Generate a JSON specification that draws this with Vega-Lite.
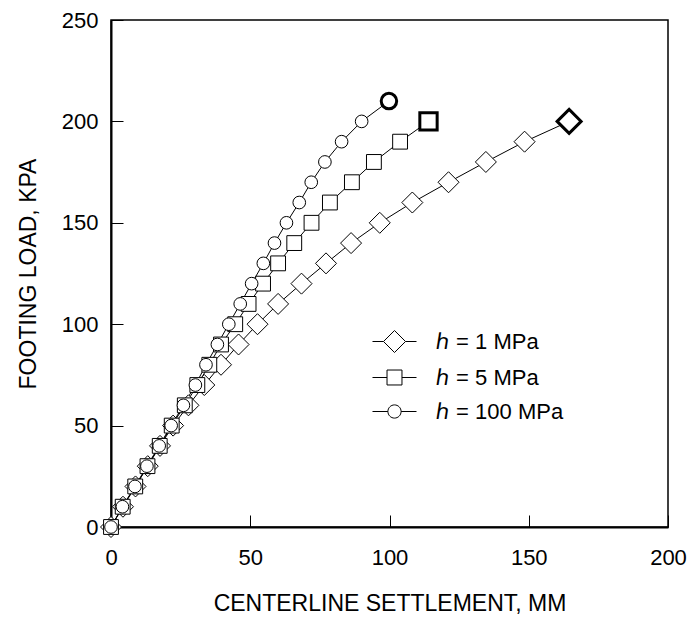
{
  "$schema": "https://vega.github.io/schema/vega-lite/v6.json",
  "autosize": "none",
  "width": 557,
  "height": 507,
  "padding": {"left": 111, "top": 20, "right": 27, "bottom": 94},
  "background": "white",
  "config": {
    "view": {"stroke": "black", "strokeWidth": 1.5},
    "font": "Liberation Sans",
    "axis": {
      "grid": false,
      "domainColor": "black",
      "domainWidth": 2,
      "tickColor": "black",
      "tickWidth": 1,
      "tickSize": -12,
      "labelColor": "black",
      "labelFont": "Liberation Sans",
      "labelFontSize": 22,
      "labelFlush": false,
      "labelOverlap": false,
      "titleColor": "black",
      "titleFont": "Liberation Sans",
      "titleFontSize": 23,
      "titleFontWeight": "normal"
    }
  },
  "data": {
    "values": [
      {"series": "ℎ = 1 MPa", "load": 0, "settlement": 0},
      {"series": "ℎ = 1 MPa", "load": 10, "settlement": 4.3},
      {"series": "ℎ = 1 MPa", "load": 20, "settlement": 8.8},
      {"series": "ℎ = 1 MPa", "load": 30, "settlement": 13.2},
      {"series": "ℎ = 1 MPa", "load": 40, "settlement": 17.6},
      {"series": "ℎ = 1 MPa", "load": 50, "settlement": 22.3},
      {"series": "ℎ = 1 MPa", "load": 60, "settlement": 27.8},
      {"series": "ℎ = 1 MPa", "load": 70, "settlement": 33.5},
      {"series": "ℎ = 1 MPa", "load": 80, "settlement": 39.5},
      {"series": "ℎ = 1 MPa", "load": 90, "settlement": 45.8},
      {"series": "ℎ = 1 MPa", "load": 100, "settlement": 52.6},
      {"series": "ℎ = 1 MPa", "load": 110, "settlement": 60},
      {"series": "ℎ = 1 MPa", "load": 120, "settlement": 68.4},
      {"series": "ℎ = 1 MPa", "load": 130, "settlement": 77.2},
      {"series": "ℎ = 1 MPa", "load": 140, "settlement": 86.2},
      {"series": "ℎ = 1 MPa", "load": 150, "settlement": 96.5},
      {"series": "ℎ = 1 MPa", "load": 160, "settlement": 108.2},
      {"series": "ℎ = 1 MPa", "load": 170, "settlement": 121.2},
      {"series": "ℎ = 1 MPa", "load": 180, "settlement": 134.6},
      {"series": "ℎ = 1 MPa", "load": 190, "settlement": 148.5},
      {"series": "ℎ = 1 MPa", "load": 200, "settlement": 164.5},
      {"series": "ℎ = 5 MPa", "load": 0, "settlement": 0},
      {"series": "ℎ = 5 MPa", "load": 10, "settlement": 4.2},
      {"series": "ℎ = 5 MPa", "load": 20, "settlement": 8.7},
      {"series": "ℎ = 5 MPa", "load": 30, "settlement": 13.1},
      {"series": "ℎ = 5 MPa", "load": 40, "settlement": 17.5},
      {"series": "ℎ = 5 MPa", "load": 50, "settlement": 21.8},
      {"series": "ℎ = 5 MPa", "load": 60, "settlement": 26.5},
      {"series": "ℎ = 5 MPa", "load": 70, "settlement": 31},
      {"series": "ℎ = 5 MPa", "load": 80, "settlement": 35.3},
      {"series": "ℎ = 5 MPa", "load": 90, "settlement": 39.5},
      {"series": "ℎ = 5 MPa", "load": 100, "settlement": 44.6},
      {"series": "ℎ = 5 MPa", "load": 110, "settlement": 49.4},
      {"series": "ℎ = 5 MPa", "load": 120, "settlement": 54.6},
      {"series": "ℎ = 5 MPa", "load": 130, "settlement": 60},
      {"series": "ℎ = 5 MPa", "load": 140, "settlement": 65.8},
      {"series": "ℎ = 5 MPa", "load": 150, "settlement": 72},
      {"series": "ℎ = 5 MPa", "load": 160, "settlement": 78.6},
      {"series": "ℎ = 5 MPa", "load": 170, "settlement": 86.5},
      {"series": "ℎ = 5 MPa", "load": 180, "settlement": 94.4},
      {"series": "ℎ = 5 MPa", "load": 190, "settlement": 103.8},
      {"series": "ℎ = 5 MPa", "load": 200, "settlement": 114},
      {"series": "ℎ = 100 MPa", "load": 0, "settlement": 0},
      {"series": "ℎ = 100 MPa", "load": 10, "settlement": 4.1},
      {"series": "ℎ = 100 MPa", "load": 20, "settlement": 8.6},
      {"series": "ℎ = 100 MPa", "load": 30, "settlement": 12.9},
      {"series": "ℎ = 100 MPa", "load": 40, "settlement": 17.3},
      {"series": "ℎ = 100 MPa", "load": 50, "settlement": 21.6},
      {"series": "ℎ = 100 MPa", "load": 60, "settlement": 26},
      {"series": "ℎ = 100 MPa", "load": 70, "settlement": 30.3},
      {"series": "ℎ = 100 MPa", "load": 80, "settlement": 34.1},
      {"series": "ℎ = 100 MPa", "load": 90, "settlement": 38.2},
      {"series": "ℎ = 100 MPa", "load": 100, "settlement": 42.3},
      {"series": "ℎ = 100 MPa", "load": 110, "settlement": 46.4},
      {"series": "ℎ = 100 MPa", "load": 120, "settlement": 50.5},
      {"series": "ℎ = 100 MPa", "load": 130, "settlement": 54.7},
      {"series": "ℎ = 100 MPa", "load": 140, "settlement": 58.7},
      {"series": "ℎ = 100 MPa", "load": 150, "settlement": 63},
      {"series": "ℎ = 100 MPa", "load": 160, "settlement": 67.6},
      {"series": "ℎ = 100 MPa", "load": 170, "settlement": 71.9},
      {"series": "ℎ = 100 MPa", "load": 180, "settlement": 76.8},
      {"series": "ℎ = 100 MPa", "load": 190, "settlement": 82.8},
      {"series": "ℎ = 100 MPa", "load": 200, "settlement": 90},
      {"series": "ℎ = 100 MPa", "load": 210, "settlement": 99.8}
    ]
  },
  "encoding": {
    "x": {
      "field": "settlement", "type": "quantitative",
      "scale": {"domain": [0, 200], "nice": false},
      "axis": {"values": [0, 50, 100, 150, 200], "title": "CENTERLINE SETTLEMENT, MM", "labelPadding": 32, "titlePadding": 24}
    },
    "y": {
      "field": "load", "type": "quantitative",
      "scale": {"domain": [0, 250], "nice": false},
      "axis": {"values": [0, 50, 100, 150, 200, 250], "title": "FOOTING LOAD, KPA", "labelPadding": 25, "titlePadding": 21}
    }
  },
  "layer": [
    {
      "mark": {"type": "line", "color": "black", "strokeWidth": 1},
      "encoding": {"detail": {"field": "series"}, "order": {"field": "load"}}
    },
    {
      "mark": {"type": "point", "filled": false, "fill": "white", "fillOpacity": 1, "stroke": "black", "strokeWidth": 1, "opacity": 1},
      "encoding": {
        "shape": {
          "field": "series", "type": "nominal",
          "scale": {"domain": ["ℎ = 1 MPa", "ℎ = 5 MPa", "ℎ = 100 MPa"], "range": ["diamond", "square", "circle"]},
          "legend": null
        },
        "size": {
          "field": "series", "type": "nominal",
          "scale": {"type": "ordinal", "domain": ["ℎ = 1 MPa", "ℎ = 5 MPa", "ℎ = 100 MPa"], "range": [441, 220, 160]},
          "legend": null
        }
      }
    },
    {
      "transform": [
        {"joinaggregate": [{"op": "max", "field": "load", "as": "maxLoad"}], "groupby": ["series"]},
        {"filter": "datum.load === datum.maxLoad"}
      ],
      "mark": {"type": "point", "filled": false, "fill": "white", "fillOpacity": 1, "stroke": "black", "strokeWidth": 3, "opacity": 1},
      "encoding": {
        "shape": {
          "field": "series", "type": "nominal",
          "scale": {"domain": ["ℎ = 1 MPa", "ℎ = 5 MPa", "ℎ = 100 MPa"], "range": ["diamond", "square", "circle"]},
          "legend": null
        },
        "size": {
          "field": "series", "type": "nominal",
          "scale": {"type": "ordinal", "domain": ["ℎ = 1 MPa", "ℎ = 5 MPa", "ℎ = 100 MPa"], "range": [576, 300, 240]},
          "legend": null
        }
      }
    },
    {
      "transform": [{"filter": "datum.load === 0"}],
      "mark": {"type": "point", "filled": false, "stroke": "black", "strokeWidth": 1, "opacity": 0},
      "encoding": {
        "shape": {
          "field": "series", "type": "nominal",
          "scale": {
            "domain": ["ℎ = 1 MPa", "ℎ = 5 MPa", "ℎ = 100 MPa"],
            "range": [
              "M -1 0 L -0.5 0 M 0.5 0 L 1 0 M -0.5 0 L 0 -0.5 L 0.5 0 L 0 0.5 Z",
              "M -1 0 L -0.34 0 M 0.34 0 L 1 0 M -0.34 -0.34 L 0.34 -0.34 L 0.34 0.34 L -0.34 0.34 Z",
              "M -1 0 L -0.3 0 M 0.3 0 L 1 0 M -0.3 0 A 0.3 0.3 0 1 0 0.3 0 A 0.3 0.3 0 1 0 -0.3 0 Z"
            ]
          },
          "legend": {
            "orient": "none", "legendX": 261, "legendY": 299, "title": null,
            "symbolSize": 1936, "symbolStrokeWidth": 1, "symbolStrokeColor": "black", "symbolFillColor": "white", "symbolOpacity": 1,
            "labelFont": "Liberation Sans", "labelFontSize": 22, "labelColor": "black", "labelOffset": 19, "rowPadding": -14
          }
        }
      }
    }
  ],
  "resolve": {"scale": {"size": "independent", "shape": "independent"}}
}
